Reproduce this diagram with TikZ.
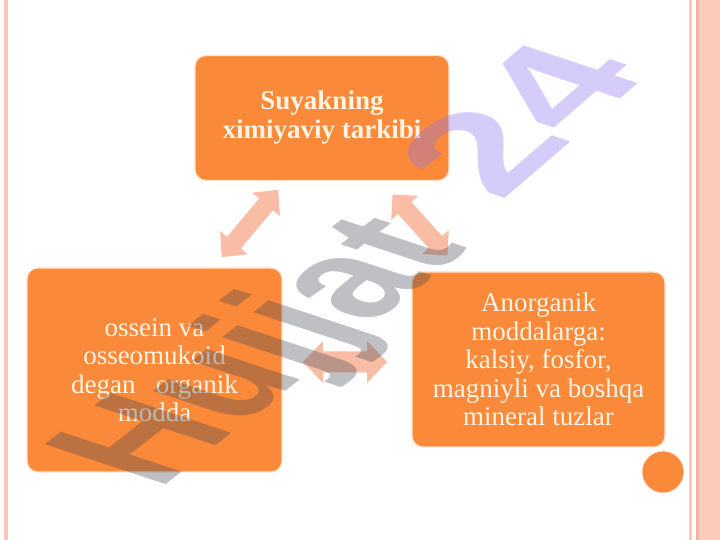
\documentclass[tikz,border=0pt]{standalone}
\usepackage{fontspec}
\setmainfont{Liberation Serif}
\newfontfamily\wmfont{Liberation Sans}
\definecolor{boxor}{RGB}{250,138,58}
\definecolor{boxedge}{RGB}{253,226,204}
\definecolor{boxtext}{RGB}{255,243,228}
\definecolor{arrfill}{RGB}{249,189,166}
\definecolor{lpink}{RGB}{249,200,186}
\definecolor{bandpink}{RGB}{251,203,188}
\definecolor{bandedge}{RGB}{244,178,158}
\definecolor{wmgray}{RGB}{60,64,78}
\definecolor{wmpurple}{RGB}{140,110,240}
\newcommand\mkdarrow[6]{%
  \fill[arrfill, shift={(#1)}, rotate=#2]
    (-#3,0) -- (-#3+#4,#5) -- (-#3+#4,#6) -- (#3-#4,#6) -- (#3-#4,#5) -- (#3,0)
    -- (#3-#4,-#5) -- (#3-#4,-#6) -- (-#3+#4,-#6) -- (-#3+#4,-#5) -- cycle;}
\tikzset{
  box/.style={rectangle, rounded corners=11pt, fill=boxor, draw=boxedge,
    line width=1.2pt, text=boxtext, align=center, inner sep=2pt,
    font=\fontsize{27}{28.5}\selectfont},
  wm/.style={transform shape, anchor=base west, inner sep=0pt, outer sep=0pt,
    font=\wmfont\bfseries\fontsize{100}{100}\selectfont}
}
\begin{document}
\begin{tikzpicture}[x=1pt,y=1pt]
\useasboundingbox (0,0) rectangle (720,540);
\fill[white] (0,0) rectangle (720,540);
% slide borders
\fill[lpink] (4,0) rectangle (7.5,540);
\fill[lpink] (688.5,0) rectangle (691.5,540);
\fill[bandpink] (696,0) rectangle (720,540);
\fill[bandedge] (696,0) rectangle (698.5,540);
% boxes
\node[box, minimum width=254pt, minimum height=125pt,
  font=\bfseries\fontsize{27}{29}\selectfont] (top) at (322,422) {Suyakning\\ximiyaviy tarkibi};
\node[box, minimum width=255pt, minimum height=204pt] (org) at (154.5,170)
  {ossein va\\osseomukoid\\degan\ \ \ organik\\modda};
\node[box, minimum width=253pt, minimum height=175pt] (inorg) at (538.5,180.5)
  {Anorganik\\moddalarga:\\kalsiy, fosfor,\\magniyli va boshqa\\mineral tuzlar};
\node[circle, fill=boxor, draw=boxedge, line width=1pt, minimum size=42pt, inner sep=0pt] (dot) at (663,68) {};
% double block arrows
\coordinate (a1) at (250,316.5);
\coordinate (a2) at (420,315);
\coordinate (a3) at (345,178);
\mkdarrow{a1}{50}{44}{19}{18}{9}
\mkdarrow{a2}{-48}{41}{18}{18}{9}
\mkdarrow{a3}{0}{42}{20}{21}{10.5}
% watermark
\begin{scope}[cm={1.119,0.875,-1.756,0.581,(158.7,49.2)}]
  \node[wm, text=wmgray, text opacity=0.33] (wm1) at (0,0) {Hujjat};
\end{scope}
\begin{scope}[cm={1.364,1.174,-1.66,0.55,(500,337)}]
  \node[wm, text=wmpurple, text opacity=0.35] (wm2) at (0,0) {24};
\end{scope}
\end{tikzpicture}
\end{document}
